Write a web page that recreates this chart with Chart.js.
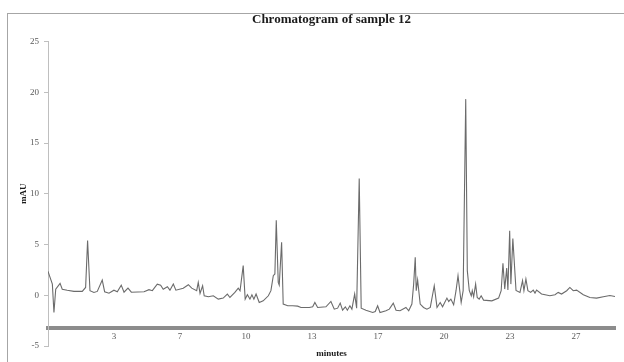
<!DOCTYPE html>
<html>
<head>
<meta charset="utf-8">
<script src="https://cdn.jsdelivr.net/npm/chart.js@4.4.1/dist/chart.umd.min.js"></script>
<style>
  html, body { margin: 0; padding: 0; background: #fff; overflow: hidden; }
  #wrap { position: relative; width: 624px; height: 362px; }
  #frame { position: absolute; left: 7px; top: 13px; width: 700px; height: 400px;
           border-left: 1px solid #a6a6a6; border-top: 1px solid #a6a6a6; pointer-events: none; }
</style>
</head>
<body>
<div id="wrap">
  <canvas id="chromChart" width="624" height="362"></canvas>
  <div id="frame"></div>
</div>
<script>
// retention time (min) and detector signal (mAU)
const minutes = [0, 0.22, 0.30, 0.39, 0.61, 0.72, 0.97, 1.31, 1.73, 1.90, 2.00, 2.12, 2.32, 2.49, 2.74, 2.86,
  3.08, 3.33, 3.50, 3.70, 3.84, 4.04, 4.21, 4.85, 5.10, 5.27, 5.52, 5.69, 5.82, 6.03, 6.16, 6.33, 6.46,
  6.83, 7.09, 7.26, 7.51, 7.59, 7.68, 7.81, 7.89, 8.10, 8.35, 8.60, 8.85, 9.06, 9.19, 9.44, 9.61, 9.70,
  9.86, 9.96, 10.07, 10.20, 10.30, 10.40, 10.51, 10.67, 10.87, 11.13, 11.26, 11.38, 11.46, 11.53, 11.63,
  11.68, 11.80, 11.88, 12.11, 12.36, 12.61, 12.78, 13.20, 13.37, 13.48, 13.62, 14.04, 14.29, 14.46, 14.63,
  14.76, 14.88, 15.02, 15.12, 15.25, 15.35, 15.49, 15.59, 15.72, 15.82, 16.06, 16.40, 16.53, 16.65, 16.77,
  17.07, 17.24, 17.44, 17.58, 17.78, 18.08, 18.22, 18.38, 18.47, 18.55, 18.60, 18.67, 18.80, 18.97, 19.14,
  19.31, 19.51, 19.65, 19.81, 19.93, 20.15, 20.24, 20.35, 20.49, 20.61, 20.71, 20.87, 20.97, 21.10, 21.18,
  21.28, 21.38, 21.43, 21.50, 21.60, 21.68, 21.78, 21.88, 22.00, 22.42, 22.76, 22.89, 22.98, 23.07, 23.17,
  23.23, 23.32, 23.38, 23.48, 23.64, 23.84, 23.97, 24.04, 24.14, 24.24, 24.38, 24.51, 24.60, 24.68, 24.93,
  25.35, 25.61, 25.77, 25.94, 26.20, 26.36, 26.53, 26.70, 27.04, 27.37, 27.71, 28.05, 28.38, 28.64];

const mau = [2.36, 1.1, -1.7, 0.6, 1.17, 0.6, 0.5, 0.38, 0.38, 0.77, 5.4, 0.45, 0.28, 0.38, 1.5, 0.35,
  0.2, 0.5, 0.35, 1.0, 0.3, 0.7, 0.3, 0.35, 0.55, 0.45, 1.1, 1.0, 0.6, 0.84, 0.5, 1.1, 0.5,
  0.7, 1.04, 0.7, 0.45, 1.27, 0.18, 0.94, -0.05, -0.15, -0.05, -0.38, -0.28, 0.12, -0.22, 0.28, 0.7, 0.45,
  2.92, -0.38, 0.05, -0.38, 0.05, -0.38, 0.12, -0.71, -0.55, -0.05, 0.45, 1.93, 2.1, 7.38, 1.27,
  1.0, 5.23, -0.87, -1.04, -1.04, -1.07, -1.2, -1.2, -1.14, -0.71, -1.2, -1.14, -0.61, -1.37, -1.27,
  -0.77, -1.47, -1.14, -1.47, -1.04, -1.37, 0.12, -1.27, 11.5, -1.27, -1.47, -1.7, -1.6, -1.04, -1.7,
  -1.53, -1.37, -0.77, -1.47, -1.53, -1.2, -1.53, -0.87, 1.1, 3.74, 0.45, 1.5, -0.87, -1.2, -1.37,
  -1.2, 0.94, -1.2, -0.71, -1.14, -0.28, -0.61, -0.38, -0.94, 0.45, 1.93, -0.71, 0.45, 19.33, 2.43,
  0.45, -0.05, 0.45, -0.15, 1.1, -0.22, -0.38, -0.05, -0.48, -0.55, -0.28, 0.45, 3.15, 0.61, 2.69,
  0.51, 6.35, 1.1, 5.6, 0.48, 0.28, 1.44, 0.45, 1.6, 0.45, 0.28, 0.51, 0.22, 0.51, 0.12,
  -0.05, 0.05, 0.28, 0.12, 0.45, 0.77, 0.45, 0.51, 0.05, -0.22, -0.28, -0.15, -0.02, -0.12];

// category-style ticks of the original (every 1/9 of 30 min), shown rounded
const xTickValues = [10 / 3, 20 / 3, 10, 40 / 3, 50 / 3, 20, 70 / 3, 80 / 3];
const xTickLabels = ['3', '7', '10', '13', '17', '20', '23', '27'];
const xAxisAt = -3.2;

const serif = 'Liberation Serif';

new Chart(document.getElementById('chromChart'), {
  type: 'line',
  data: {
    datasets: [{
      data: minutes.map((t, i) => ({ x: t, y: mau[i] })),
      borderColor: '#6b6b6b',
      borderWidth: 1.1,
      pointRadius: 0,
      tension: 0,
      fill: false
    }]
  },
  options: {
    responsive: false,
    animation: false,
    layout: { padding: { left: 0, right: 9, top: 0, bottom: 16 } },
    plugins: {
      legend: { display: false },
      tooltip: { enabled: false },
      title: {
        display: true,
        fullSize: false,
        text: 'Chromatogram of sample 12',
        color: '#1a1a1a',
        font: { family: serif, size: 13, weight: 'bold' },
        padding: { top: 12, bottom: 14 }
      }
    },
    scales: {
      x: {
        type: 'linear',
        min: 0,
        max: 28.64,
        position: { y: xAxisAt },
        grid: { display: false, drawTicks: false },
        border: { display: true, color: '#8c8c8c', width: 4 },
        afterBuildTicks: (scale) => { scale.ticks = xTickValues.map(v => ({ value: v })); },
        ticks: {
          autoSkip: false,
          maxRotation: 0,
          padding: 4,
          color: '#595959',
          font: { family: serif, size: 9 },
          callback: (value, index) => xTickLabels[index]
        },
        title: {
          display: true,
          text: 'minutes',
          color: '#1a1a1a',
          font: { family: serif, size: 9, weight: 'bold' },
          padding: { top: 2, bottom: 0 }
        }
      },
      y: {
        min: -5,
        max: 25,
        afterFit: (scale) => { scale.width = 48; },
        grid: { drawOnChartArea: false, drawTicks: true, tickLength: 4, color: '#bfbfbf' },
        border: { display: true, color: '#bfbfbf', width: 1 },
        ticks: {
          stepSize: 5,
          padding: 5,
          color: '#595959',
          font: { family: serif, size: 9 }
        },
        title: {
          display: true,
          text: 'mAU',
          color: '#1a1a1a',
          font: { family: serif, size: 9, weight: 'bold' },
          padding: { top: 18, bottom: 0 }
        }
      }
    }
  }
});
</script>
</body>
</html>
